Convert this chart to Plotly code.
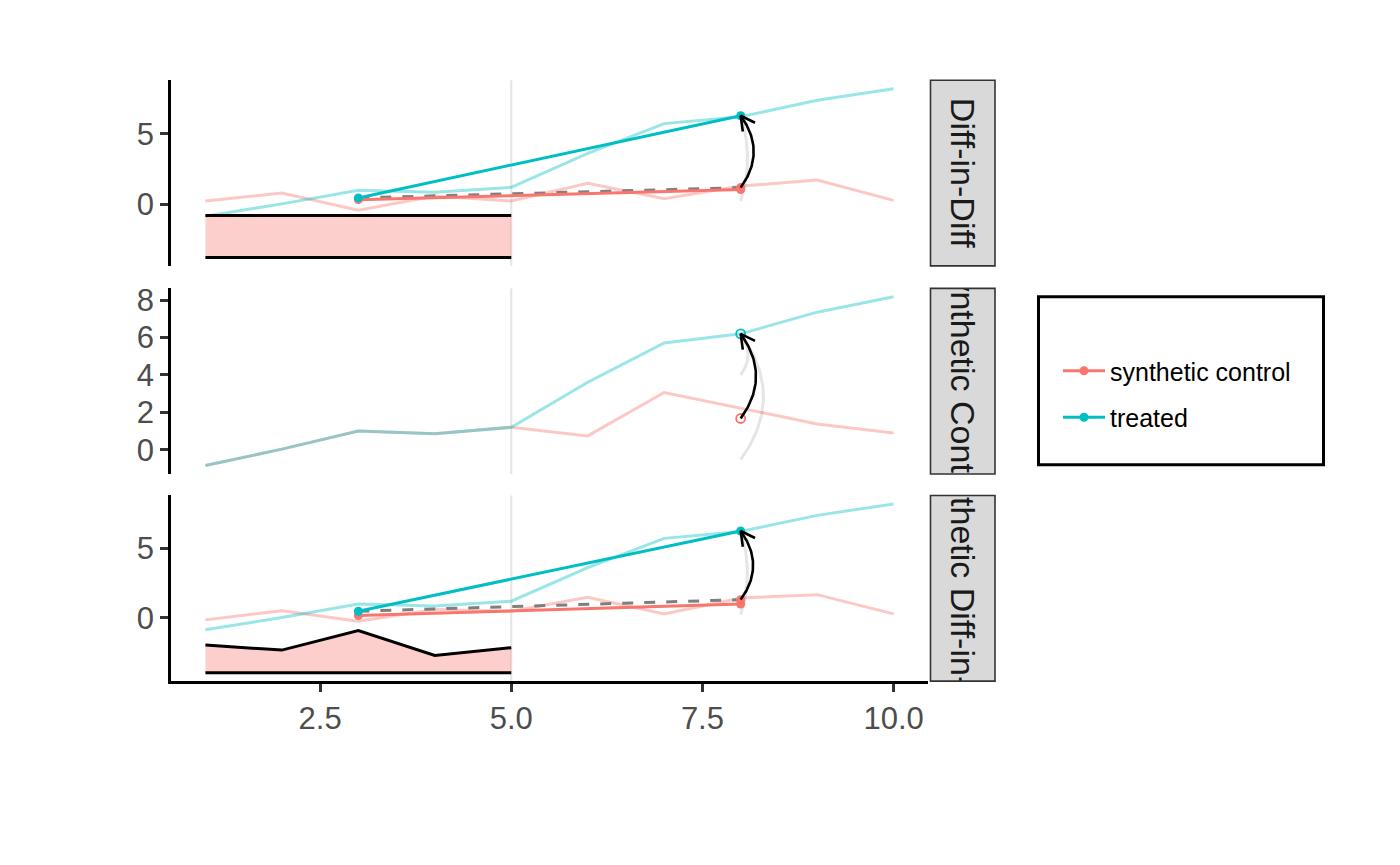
import numpy as np
import plotly.graph_objects as go

# ---------------- data ----------------
time = [1, 2, 3, 4, 5, 6, 7, 8, 9, 10]
treated = [-0.85, 0.03, 1.0, 0.86, 1.2, 3.61, 5.71, 6.2, 7.36, 8.18]
control_did = [0.23, 0.8, -0.42, 0.58, 0.23, 1.48, 0.4, 1.29, 1.71, 0.28]
control_sc = [-0.85, 0.03, 1.0, 0.86, 1.2, 0.74, 3.06, 2.2, 1.38, 0.89]
control_sdid = [-0.14, 0.52, -0.24, 0.6, 0.48, 1.48, 0.29, 1.43, 1.67, 0.29]

panel_labels = ["Diff-in-Diff", "Synthetic Control", "Synthetic Diff-in-Diff"]
treatment_time = 5

# time weights ribbons (pre period)
pre_time = [1, 2, 3, 4, 5]
weights_did_top = [-0.8, -0.8, -0.8, -0.8, -0.8]
weights_did_base = -3.76
weights_sdid_top = [-1.95, -2.31, -0.9, -2.69, -2.14]
weights_sdid_base = -3.93

# pre / post summary points
seg_time = [3, 8]
did_treated_seg = [0.45, 6.27]
did_control_seg = [0.33, 1.04]
did_counterfactual = [0.45, 1.18]
sdid_treated_seg = [0.48, 6.24]
sdid_control_seg = [0.17, 1.0]
sdid_counterfactual = [0.48, 1.31]
sc_time = [8]
sc_treated_pt = [6.2]
sc_control_pt = [1.67]

# effect arrows (x = 8): from, to
arrow_time = 8
arrow_from = [1.18, 1.67, 1.31]
arrow_to = [6.27, 6.2, 6.24]
# faint ghost arcs per panel: (from, to, curvature)
ghost_arcs = [
    [(0.23, 6.27, 0.16)],
    [(-0.53, 6.2, 0.36), (4.0, 6.2, 0.36)],
    [(0.24, 6.24, 0.16)],
]

# ---------------- style / layout ----------------
W, H = 1400, 865
OFF = 8  # default page body margin
RED = "#F8766D"
CYAN = "#00BFC4"
RED_L = "rgba(248,118,109,0.4)"
CYAN_L = "rgba(0,191,196,0.4)"
FONT = "Liberation Sans, Arial, Helvetica, sans-serif"
LW = 3.0

PX_L, PX_R = 171, 928
STRIP_L, STRIP_R = 930.5, 995
PANEL_PX = [(75.7, 262.3), (285.0, 471.7), (493.3, 680.0)]

def px_x(v):
    return (v - OFF) / W

def px_y(v):
    return 1 - (v - OFF) / H

xr = [min(time) - 0.05 * (max(time) - min(time)), max(time) + 0.05 * (max(time) - min(time))]

panel_series = [control_did, control_sc, control_sdid]

def yrange(i):
    vals = list(treated) + list(panel_series[i])
    if i == 0:
        vals += weights_did_top + [weights_did_base]
    if i == 2:
        vals += weights_sdid_top + [weights_sdid_base]
    lo, hi = min(vals), max(vals)
    s = hi - lo
    return [lo - 0.05 * s, hi + 0.05 * s]

yranges = [yrange(i) for i in range(3)]

fig = go.Figure()

def ax(i):
    return ("x" if i == 0 else f"x{i+1}"), ("y" if i == 0 else f"y{i+1}")

def curve(i, y0, y1, k, n=50):
    x0r, x1r = xr
    y0r, y1r = yranges[i]
    top, bot = PANEL_PX[i]
    sx = (PX_R - PX_L) / (x1r - x0r)
    sy = (bot - top) / (y1r - y0r)
    S = np.array([(arrow_time - x0r) * sx, -(y0 - y0r) * sy])
    E = np.array([(arrow_time - x0r) * sx, -(y1 - y0r) * sy])
    d = E - S
    L = np.hypot(*d)
    nrm = np.array([-d[1], d[0]]) / L
    C = (S + E) / 2 + k * L * nrm
    t = np.linspace(0, 1, n)[:, None]
    P = (1 - t) ** 2 * S + 2 * (1 - t) * t * C + t ** 2 * E
    xs = P[:, 0] / sx + x0r
    ys = -P[:, 1] / sy + y0r
    # arrow head
    u = (C - E) / np.hypot(*(C - E))
    head = []
    for ang in (np.radians(28), -np.radians(28)):
        r = np.array([u[0] * np.cos(ang) - u[1] * np.sin(ang), u[0] * np.sin(ang) + u[1] * np.cos(ang)])
        head.append(E + 16 * r)
    hx = [head[0][0] / sx + x0r, E[0] / sx + x0r, head[1][0] / sx + x0r]
    hy = [-head[0][1] / sy + y0r, -E[1] / sy + y0r, -head[1][1] / sy + y0r]
    return xs, ys, hx, hy

for i in range(3):
    xa, ya = ax(i)
    ctrl = panel_series[i]
    # light background series
    fig.add_trace(go.Scatter(x=time, y=ctrl, mode="lines", line=dict(color=RED_L, width=LW),
                             xaxis=xa, yaxis=ya, showlegend=False, hoverinfo="skip"))
    fig.add_trace(go.Scatter(x=time, y=treated, mode="lines", line=dict(color=CYAN_L, width=LW),
                             xaxis=xa, yaxis=ya, showlegend=False, hoverinfo="skip"))
    # weights ribbons
    if i in (0, 2):
        top = weights_did_top if i == 0 else weights_sdid_top
        base = weights_did_base if i == 0 else weights_sdid_base
        fig.add_trace(go.Scatter(x=pre_time, y=[base] * len(pre_time), mode="lines",
                                 line=dict(color="black", width=LW), xaxis=xa, yaxis=ya,
                                 showlegend=False, hoverinfo="skip"))
        fig.add_trace(go.Scatter(x=pre_time, y=top, mode="lines", fill="tonexty",
                                 fillcolor="rgba(248,118,109,0.35)",
                                 line=dict(color="black", width=LW), xaxis=xa, yaxis=ya,
                                 showlegend=False, hoverinfo="skip"))
    # ghost arcs
    for (g0, g1, gk) in ghost_arcs[i]:
        gx, gy, _, _ = curve(i, g0, g1, gk)
        fig.add_trace(go.Scatter(x=gx, y=gy, mode="lines", line=dict(color="rgba(0,0,0,0.1)", width=LW),
                                 xaxis=xa, yaxis=ya, showlegend=False, hoverinfo="skip"))
    if i in (0, 2):
        tseg = did_treated_seg if i == 0 else sdid_treated_seg
        cseg = did_control_seg if i == 0 else sdid_control_seg
        cf = did_counterfactual if i == 0 else sdid_counterfactual
        fig.add_trace(go.Scatter(x=seg_time, y=cf, mode="lines",
                                 line=dict(color="#7f7f7f", width=LW, dash="11px,11px"),
                                 xaxis=xa, yaxis=ya, showlegend=False, hoverinfo="skip"))
        fig.add_trace(go.Scatter(x=seg_time[1:], y=cf[1:], mode="markers",
                                 marker=dict(color=RED, size=9),
                                 xaxis=xa, yaxis=ya, showlegend=False, hoverinfo="skip"))
        fig.add_trace(go.Scatter(x=seg_time, y=cseg, mode="lines+markers", name="synthetic control",
                                 legendgroup="sc",
                                 line=dict(color=RED, width=LW), marker=dict(color=RED, size=9),
                                 xaxis=xa, yaxis=ya, showlegend=(i == 0), legendrank=1, hoverinfo="skip"))
        fig.add_trace(go.Scatter(x=seg_time, y=tseg, mode="lines+markers", name="treated",
                                 legendgroup="tr",
                                 line=dict(color=CYAN, width=LW), marker=dict(color=CYAN, size=9),
                                 xaxis=xa, yaxis=ya, showlegend=(i == 0), legendrank=2, hoverinfo="skip"))
    else:
        fig.add_trace(go.Scatter(x=sc_time, y=sc_control_pt, mode="markers",
                                 marker=dict(color=RED, size=9, symbol="circle-open", line=dict(width=1.8)),
                                 xaxis=xa, yaxis=ya, showlegend=False, hoverinfo="skip"))
        fig.add_trace(go.Scatter(x=sc_time, y=sc_treated_pt, mode="markers",
                                 marker=dict(color=CYAN, size=9, symbol="circle-open", line=dict(width=1.8)),
                                 xaxis=xa, yaxis=ya, showlegend=False, hoverinfo="skip"))
    # effect arrow
    cx, cy, hx, hy = curve(i, arrow_from[i], arrow_to[i], 0.36)
    fig.add_trace(go.Scatter(x=cx, y=cy, mode="lines", line=dict(color="black", width=2.6),
                             xaxis=xa, yaxis=ya, showlegend=False, hoverinfo="skip"))
    fig.add_trace(go.Scatter(x=hx, y=hy, mode="lines", line=dict(color="black", width=2.6),
                             xaxis=xa, yaxis=ya, showlegend=False, hoverinfo="skip"))

# strips (bar text clipped to the strip area)
for i in range(3):
    k = i + 4
    fig.add_trace(go.Bar(x=[0], y=[1], base=[0], width=[1], text=[panel_labels[i]],
                         textposition="inside", textangle=90, insidetextanchor="middle",
                         textfont=dict(size=34, color="#1a1a1a", family=FONT),
                         marker=dict(color="#d9d9d9", line=dict(width=0)), cliponaxis=True,
                         xaxis=f"x{k}", yaxis=f"y{k}", showlegend=False, hoverinfo="skip"))

layout = dict(
    width=W, height=H, autosize=False,
    margin=dict(l=0, r=0, t=0, b=0),
    paper_bgcolor="white", plot_bgcolor="white",
    font=dict(family=FONT, color="#4d4d4d"),
    uniformtext=dict(mode="show", minsize=34),
    showlegend=True,
    legend=dict(x=px_x(1058), y=px_y(345), xanchor="left", yanchor="top",
                bgcolor="rgba(0,0,0,0)", borderwidth=0,
                font=dict(size=25, color="black", family=FONT),
                traceorder="grouped", itemwidth=42, tracegroupgap=11),
    shapes=[],
)

for i in range(3):
    top, bot = PANEL_PX[i]
    dom_y = [px_y(bot), px_y(top)]
    xname = "xaxis" if i == 0 else f"xaxis{i+1}"
    yname = "yaxis" if i == 0 else f"yaxis{i+1}"
    ya = "y" if i == 0 else f"y{i+1}"
    bottom = (i == 2)
    layout[xname] = dict(domain=[px_x(PX_L), px_x(PX_R)], range=xr, anchor=ya,
                         showgrid=False, zeroline=False, showline=bottom, linecolor="black", linewidth=2.7,
                         ticks="outside" if bottom else "", ticklen=8, tickwidth=2.5, tickcolor="#333333",
                         showticklabels=bottom, tickvals=[2.5, 5.0, 7.5, 10.0],
                         ticktext=["2.5", "5.0", "7.5", "10.0"],
                         tickfont=dict(size=31, color="#4d4d4d"), fixedrange=True)
    if i != 2:
        layout[xname]["matches"] = "x3"
    layout[yname] = dict(domain=dom_y, range=yranges[i], anchor="x" if i == 0 else f"x{i+1}",
                         showgrid=False, zeroline=False, showline=True, linecolor="black", linewidth=2.7,
                         ticks="outside", ticklen=8, tickwidth=2.5, tickcolor="#333333",
                         tickvals=[0, 5] if i != 1 else [0, 2, 4, 6, 8],
                         tickfont=dict(size=31, color="#4d4d4d"), fixedrange=True)
    # strip axes
    k = i + 4
    layout[f"xaxis{k}"] = dict(domain=[px_x(STRIP_L), px_x(STRIP_R)], range=[-0.5, 0.5], visible=False,
                               anchor=f"y{k}", fixedrange=True)
    layout[f"yaxis{k}"] = dict(domain=dom_y, range=[0, 1], visible=False, anchor=f"x{k}", fixedrange=True)
    # strip border
    layout["shapes"].append(dict(type="rect", xref="paper", yref="paper",
                                 x0=px_x(STRIP_L), x1=px_x(STRIP_R), y0=dom_y[0], y1=dom_y[1],
                                 line=dict(color="#333333", width=1.6), fillcolor="rgba(0,0,0,0)",
                                 layer="above"))
    # treatment start line
    layout["shapes"].append(dict(type="line", xref="x" if i == 0 else f"x{i+1}",
                                 yref=("y" if i == 0 else f"y{i+1}") + " domain",
                                 x0=treatment_time, x1=treatment_time, y0=0, y1=1,
                                 line=dict(color="rgba(0,0,0,0.1)", width=2.2), layer="below"))

# legend frame
layout["shapes"].append(dict(type="rect", xref="paper", yref="paper",
                             x0=px_x(1038.5), x1=px_x(1323.5), y0=px_y(462.5), y1=px_y(293.5),
                             line=dict(color="black", width=3), fillcolor="rgba(0,0,0,0)"))

fig.update_layout(**layout)
fig.write_html("out.html")
